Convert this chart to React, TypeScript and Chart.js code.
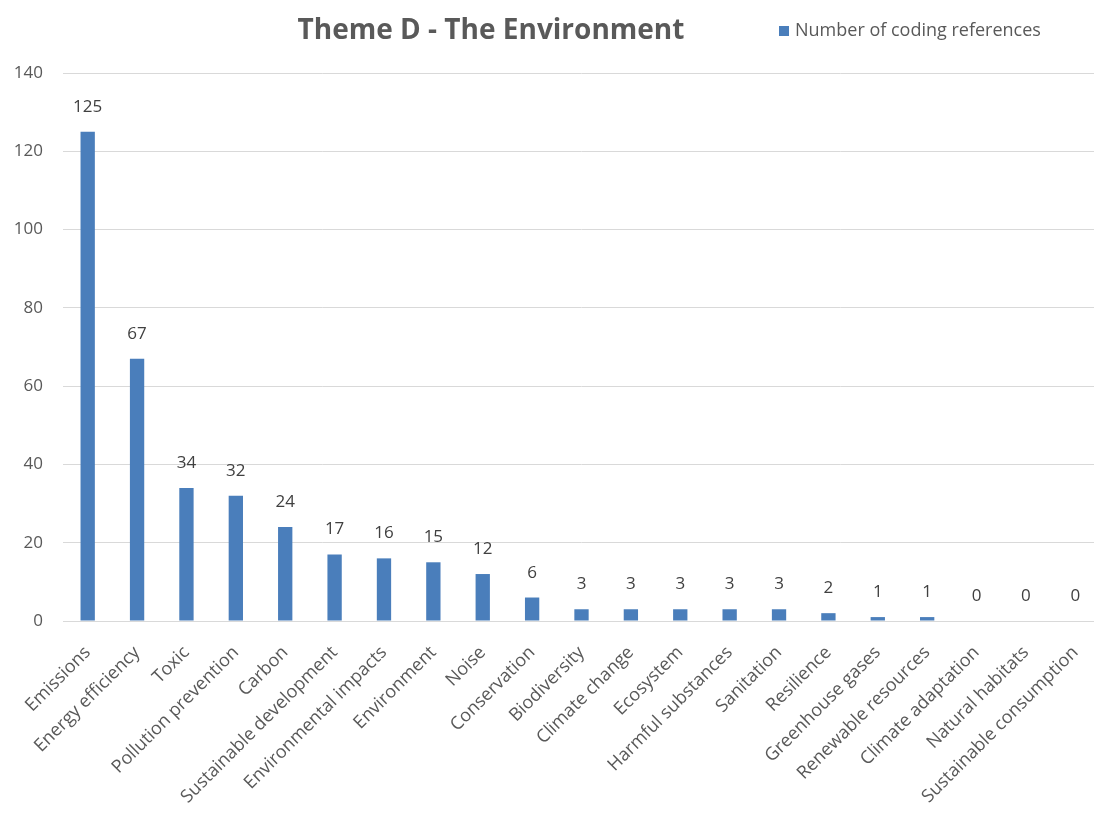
import React, { useEffect, useRef } from "react";
import { Chart, registerables } from "chart.js";

Chart.register(...registerables);

// Coded themes and how often each was referenced
const categories = [
  "Emissions",
  "Energy efficiency",
  "Toxic",
  "Pollution prevention",
  "Carbon",
  "Sustainable development",
  "Environmental impacts",
  "Environment",
  "Noise",
  "Conservation",
  "Biodiversity",
  "Climate change",
  "Ecosystem",
  "Harmful substances",
  "Sanitation",
  "Resilience",
  "Greenhouse gases",
  "Renewable resources",
  "Climate adaptation",
  "Natural habitats",
  "Sustainable consumption",
];
const references = [125, 67, 34, 32, 24, 17, 16, 15, 12, 6, 3, 3, 3, 3, 3, 2, 1, 1, 0, 0, 0];
const yMin = 0;
const yMax = 140;
const yStep = 20;

const chartTitle = "Theme D - The Environment";
const seriesName = "Number of coding references";

const BAR_BLUE = "#4a7ebb";
const AXIS_TEXT = "#595959";
const LABEL_TEXT = "#404040";
const GRID = "#d9d9d9";
const FONT = "'Open Sans', sans-serif";

// Value labels above each bar
const valueLabels = {
  id: "valueLabels",
  afterDatasetsDraw(chart: any) {
    const ctx = chart.ctx;
    const meta = chart.getDatasetMeta(0);
    ctx.save();
    ctx.fillStyle = LABEL_TEXT;
    ctx.font = `17px ${FONT}`;
    ctx.textAlign = "center";
    ctx.textBaseline = "alphabetic";
    meta.data.forEach((bar: any, i: number) => {
      const v = chart.data.datasets[0].data[i];
      ctx.fillText(String(v), bar.x, bar.y - 20);
    });
    ctx.restore();
  },
};

// Title and single-entry legend across the top
const header = {
  id: "header",
  afterDraw(chart: any) {
    const ctx = chart.ctx;
    ctx.save();
    ctx.textBaseline = "middle";
    ctx.fillStyle = AXIS_TEXT;
    ctx.font = `bold 28px ${FONT}`;
    ctx.textAlign = "center";
    ctx.fillText(chartTitle, 491, 31);

    ctx.fillStyle = BAR_BLUE;
    ctx.fillRect(779, 26, 10, 10);
    ctx.fillStyle = AXIS_TEXT;
    ctx.font = `18px ${FONT}`;
    ctx.textAlign = "left";
    ctx.fillText(seriesName, 795, 31);
    ctx.restore();
  },
};

export default function App() {
  const canvasRef = useRef<HTMLCanvasElement | null>(null);

  useEffect(() => {
    const canvas = canvasRef.current;
    if (!canvas) return;
    const chart = new Chart(canvas, {
      type: "bar",
      data: {
        labels: categories,
        datasets: [
          {
            label: seriesName,
            data: references,
            backgroundColor: BAR_BLUE,
            borderWidth: 0,
            categoryPercentage: 1,
            barPercentage: 0.29,
          },
        ],
      },
      options: {
        responsive: false,
        animation: false,
        devicePixelRatio: 1,
        layout: { padding: { top: 73, left: 0, right: 0, bottom: 0 } },
        plugins: {
          legend: { display: false },
          title: { display: false },
          tooltip: { enabled: false },
        },
        scales: {
          x: {
            offset: true,
            grid: { display: false, drawTicks: false },
            border: { display: true, color: GRID, width: 1 },
            ticks: {
              color: AXIS_TEXT,
              font: { family: FONT, size: 18 },
              minRotation: 45,
              maxRotation: 45,
              autoSkip: false,
              padding: 21,
            },
            afterFit(scale: any) {
              scale.height = 195;
              scale.paddingLeft = 0;
              scale.paddingRight = 0;
            },
          },
          y: {
            min: yMin,
            max: yMax,
            grid: { color: GRID, lineWidth: 1, drawTicks: false },
            border: { display: false },
            ticks: {
              stepSize: yStep,
              color: AXIS_TEXT,
              font: { family: FONT, size: 17 },
              padding: 20,
            },
            afterFit(scale: any) {
              scale.width = 63;
              scale.paddingTop = 0;
              scale.paddingBottom = 0;
            },
          },
        },
      },
      plugins: [valueLabels, header],
    });
    return () => chart.destroy();
  }, []);

  return (
    <div
      style={{
        position: "absolute",
        left: 0,
        top: 0,
        width: 1094,
        height: 816,
        overflow: "hidden",
        background: "#ffffff",
      }}
    >
      <canvas ref={canvasRef} width={1100} height={816} style={{ display: "block" }} />
    </div>
  );
}
